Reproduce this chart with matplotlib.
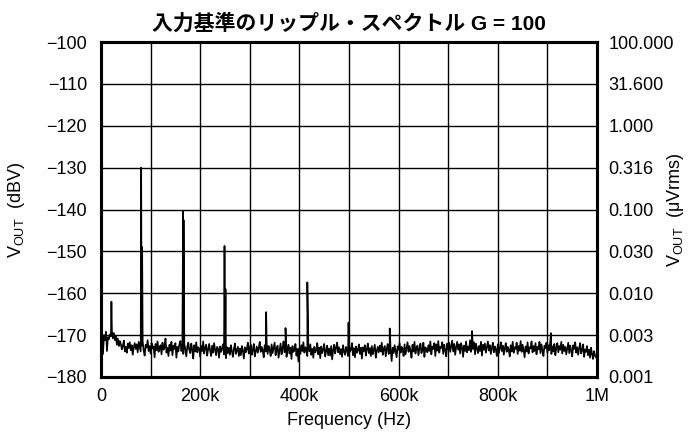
import numpy as np
import matplotlib
matplotlib.use('Agg')
import matplotlib.pyplot as plt

plt.rcParams['font.family'] = ['Liberation Sans', 'Noto Sans CJK JP', 'DejaVu Sans']
plt.rcParams['mathtext.fontset'] = 'custom'
plt.rcParams['mathtext.rm'] = 'Liberation Sans'
plt.rcParams['mathtext.it'] = 'Liberation Sans:italic'

# ノイズフロア (2 kHz 間隔, dBV)
freq_step = 2000
noise_db = [
    -172.5, -169.5, -174.5, -170.0, -171.2, -169.2, -173.8, -170.5, -171.0, -169.8,
    -170.3, -169.0, -170.8, -169.5, -171.2, -170.1, -172.3, -170.8, -172.6, -171.4,
    -172.1, -173.4, -172.6, -171.3, -173.9, -172.8, -174.2, -172.0, -173.1, -171.7,
    -173.6, -172.4, -174.7, -172.9, -171.9, -173.3, -172.2, -174.1, -171.6, -172.8,
    -173.9, -172.5, -171.4, -173.7, -174.9, -172.3, -173.0, -171.2, -173.8, -172.6,
    -174.4, -171.9, -173.2, -172.7, -175.3, -172.1, -173.6, -171.5, -174.0, -173.1,
    -172.4, -174.6, -171.8, -173.5, -172.9, -170.8, -174.2, -173.0, -175.0, -172.3,
    -173.7, -171.6, -174.8, -172.5, -173.3, -171.9, -175.4, -172.8, -173.9, -172.2,
    -171.4, -173.8, -172.6, -174.5, -172.1, -173.4, -175.1, -172.7, -171.8, -173.6,
    -174.3, -172.0, -173.5, -175.6, -172.4, -173.9, -171.7, -174.1, -172.9, -173.2,
    -175.2, -172.6, -173.8, -171.5, -174.4, -173.0, -172.3, -174.9, -173.4, -172.1,
    -173.7, -175.0, -172.5, -174.2, -171.9, -173.5, -174.8, -172.8, -173.3, -175.4,
    -172.7, -174.0, -173.1, -172.2, -174.6, -173.8, -175.5, -172.9, -174.3, -173.0,
    -174.7, -172.4, -173.9, -175.2, -173.3, -172.0, -174.5, -173.6, -172.8, -175.0,
    -173.2, -174.8, -172.6, -173.7, -175.6, -172.9, -174.1, -173.4, -171.8, -174.4,
    -173.0, -172.3, -174.7, -173.5, -172.1, -175.1, -173.8, -172.7, -174.2, -173.1,
    -171.6, -174.0, -172.8, -173.6, -175.3, -172.4, -173.9, -171.9, -174.5, -172.6,
    -173.4, -175.0, -172.2, -174.3, -173.1, -171.8, -174.8, -173.3, -172.5, -175.4,
    -173.7, -172.0, -174.6, -173.2, -171.5, -174.1, -172.8, -175.2, -173.5, -172.3,
    -174.4, -173.0, -175.7, -172.6, -174.0, -173.6, -172.1, -174.9, -173.3, -176.3,
    -173.1, -174.5, -172.4, -173.8, -171.7, -174.2, -172.9, -173.5, -175.0, -172.5,
    -173.9, -172.2, -174.7, -173.3, -175.4, -172.8, -174.1, -173.6, -171.9, -174.6,
    -173.0, -175.5, -172.7, -174.3, -173.4, -172.1, -175.1, -173.7, -172.5, -174.8,
    -173.2, -174.9, -172.6, -175.8, -173.5, -172.3, -174.4, -173.0, -171.8, -174.1,
    -172.9, -174.6, -173.3, -175.2, -172.4, -173.9, -174.7, -172.8, -173.6, -175.0,
    -172.5, -174.0, -173.4, -171.9, -174.8, -173.1, -175.3, -172.7, -174.2, -173.6,
    -172.2, -174.5, -173.0, -175.6, -172.9, -173.8, -172.4, -174.9, -173.3, -172.0,
    -174.3, -173.1, -175.0, -172.6, -174.6, -173.5, -172.3, -175.4, -173.7, -172.8,
    -174.1, -172.5, -173.9, -171.8, -174.7, -173.2, -172.6, -175.1, -173.4, -172.1,
    -174.5, -172.9, -173.6, -176.2, -173.0, -174.3, -172.4, -173.8, -175.3, -172.7,
    -173.5, -171.9, -174.2, -172.8, -173.3, -175.0, -172.2, -174.6, -173.1, -171.7,
    -174.0, -172.6, -173.7, -175.4, -172.3, -173.9, -171.6, -174.4, -173.0, -172.5,
    -174.8, -173.2, -172.0, -174.3, -173.6, -171.8, -175.2, -172.9, -173.4, -174.1,
    -172.4, -173.8, -171.5, -174.6, -172.7, -173.3, -171.9, -175.0, -172.2, -173.7,
    -171.4, -174.2, -172.8, -173.1, -171.7, -174.5, -172.3, -173.6, -175.1, -172.0,
    -173.4, -171.8, -174.0, -172.6, -171.3, -173.9, -172.1, -174.7, -172.9, -171.6,
    -173.5, -172.2, -174.4, -171.9, -173.0, -175.2, -172.5, -173.8, -171.5, -174.1,
    -172.7, -173.6, -171.2, -174.0, -172.4, -173.3, -171.7, -174.6, -172.0, -173.1,
    -174.3, -172.6, -173.8, -171.6, -174.9, -172.3, -173.5, -172.0, -174.2, -172.8,
    -171.5, -173.7, -172.4, -174.5, -173.0, -171.8, -174.1, -172.7, -173.4, -175.0,
    -172.2, -174.3, -173.1, -171.7, -173.8, -172.5, -174.7, -173.2, -171.9, -174.0,
    -172.8, -173.5, -175.1, -172.4, -173.9, -171.6, -174.2, -172.9, -173.3, -171.8,
    -174.5, -172.6, -173.7, -171.4, -174.0, -172.3, -173.5, -175.3, -172.7, -173.9,
    -171.7, -174.4, -172.9, -173.2, -171.5, -174.1, -172.6, -173.8, -171.9, -174.6,
    -172.8, -173.4, -171.6, -174.3, -172.2, -173.7, -175.0, -172.5, -173.1, -171.8,
    -174.2, -172.4, -173.6, -171.3, -174.5, -172.7, -173.9, -172.1, -174.8, -173.0,
    -171.9, -174.1, -172.6, -173.5, -171.6, -174.4, -172.3, -173.8, -172.8, -174.6,
    -173.2, -171.8, -174.3, -172.5, -173.7, -175.1, -172.4, -173.3, -171.7, -174.2,
    -172.9, -174.7, -173.1, -171.9, -174.4, -173.6, -172.2, -175.2, -173.4, -174.0,
    -172.6, -174.8, -173.5, -175.4, -173.0, -174.5, -175.7, -173.8, -174.9, -175.3,
]

# リップル成分のスパイク
spike_freq = [21000, 81000, 83000, 165500, 166500, 249000, 251000,
              333000, 372000, 416000, 499000, 582000, 748000, 907000]
spike_db = [-162.0, -130.0, -149.0, -140.5, -142.5, -148.7, -159.0,
            -164.5, -168.3, -157.4, -167.0, -168.4, -169.0, -169.5]

# 軸ラベル
left_ticks = [-100, -110, -120, -130, -140, -150, -160, -170, -180]
right_labels = ['100.000', '31.600', '1.000', '0.316', '0.100',
                '0.030', '0.010', '0.003', '0.001']
x_ticks = [0, 200000, 400000, 600000, 800000, 1000000]
x_labels = ['0', '200k', '400k', '600k', '800k', '1M']

noise_freq = np.arange(len(noise_db)) * freq_step
freq = np.concatenate([noise_freq, spike_freq])
level = np.concatenate([noise_db, spike_db])
order = np.argsort(freq, kind='stable')
freq = freq[order]
level = level[order]

fig = plt.figure(figsize=(6.99, 4.47), dpi=100)
ax = fig.add_axes([0.1445, 0.1566, 0.7096, 0.7494])
ax.plot(freq, level, color='black', linewidth=1.2)

ax.set_xlim(0, 1000000)
ax.set_ylim(-180, -100)
ax.set_xticks(x_ticks)
ax.set_xticklabels(x_labels)
ax.set_xticks(np.arange(0, 1000001, 100000), minor=True)
ax.set_yticks(left_ticks)
ax.grid(True, which='both', color='black', linewidth=1.0)
ax.tick_params(which='both', length=0, labelsize=13)
ax.tick_params(axis='y', pad=10)
ax.tick_params(axis='x', pad=8)
for s in ax.spines.values():
    s.set_linewidth(2.2)

ax.set_xlabel('Frequency (Hz)', fontsize=13, labelpad=5)
ax.set_ylabel(r'V$_{\mathrm{OUT}}$  (dBV)', fontsize=13)
ax.yaxis.set_label_coords(-0.15, 0.5)

ax2 = ax.twinx()
ax2.set_ylim(-180, -100)
ax2.set_yticks(left_ticks)
ax2.set_yticklabels(right_labels)
ax2.tick_params(length=0, labelsize=13, pad=8)
ax2.set_ylabel(r'V$_{\mathrm{OUT}}$  (μVrms)', fontsize=13)
ax2.yaxis.set_label_coords(1.137, 0.5)
for s in ax2.spines.values():
    s.set_linewidth(2.2)

ax.set_title('入力基準のリップル・スペクトル G = 100', fontsize=15,
             fontweight='bold', pad=9)

plt.savefig('out.png', dpi=100)
